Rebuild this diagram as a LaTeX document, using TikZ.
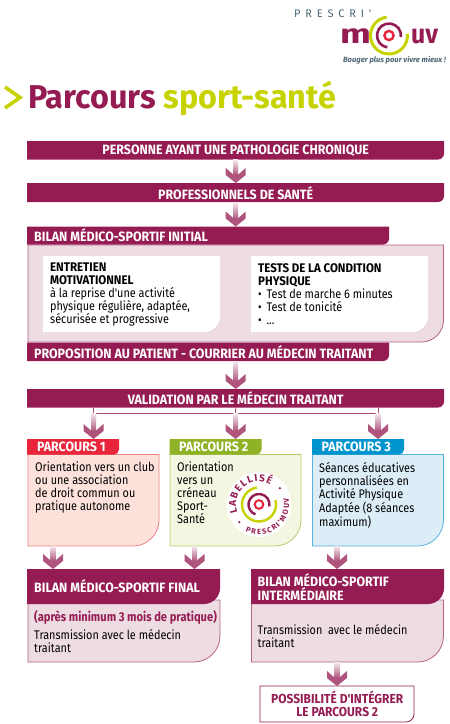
\documentclass[tikz,border=0pt]{standalone}
\usepackage{fontspec}
\setmainfont{Fira Sans}
\newfontfamily\slimfont[FakeStretch=0.87]{Fira Sans}
\newfontfamily\barfont[FakeStretch=0.92]{Fira Sans}
\newfontfamily\titlefont[FakeStretch=0.98]{Fira Sans}
\newfontfamily\widefont[FakeStretch=1.35]{Fira Sans}
\newfontfamily\spreadfont[LetterSpace=44]{Fira Sans}
\newfontfamily\logofont{Fira Sans}
\usetikzlibrary{calc,decorations.text}
\definecolor{crimson}{HTML}{951C52}
\definecolor{crimsonpale}{HTML}{EDDDE3}
\definecolor{lime}{HTML}{C6D300}
\definecolor{slate}{HTML}{4A6572}
\definecolor{redtab}{HTML}{E8253A}
\definecolor{redline}{HTML}{F08085}
\definecolor{redpale}{HTML}{FDE2DC}
\definecolor{greentab}{HTML}{8FB226}
\definecolor{greenline}{HTML}{B5CC6A}
\definecolor{greenpale}{HTML}{F4F6E2}
\definecolor{bluetab}{HTML}{0094CE}
\definecolor{blueline}{HTML}{52B4DF}
\definecolor{bluepale}{HTML}{DDEDF8}
\tikzset{
	bartext/.style={inner sep=0, text=white, font=\barfont\fontsize{13.5}{13}\selectfont\bfseries},
	bodytext/.style={inner sep=0, anchor=north west, align=left, font=\slimfont\fontsize{12.5}{13}\selectfont},
	linkline/.style={draw=crimson!80, line width=0.8pt},
	crimsonbar/.style={fill=crimson, draw=none},
	whitecard/.style={fill=white, draw=none},
	palepanel/.style={fill=crimsonpale, draw=crimson!70, line width=0.8pt},
}
% box with one rounded corner at the lower right, the name is an empty node for anchors
\def\cornerbox[#1](#2)(#3,#4)(#5,#6)(#7){
	\draw[#1] (#3,#4) -- (#5,#4) [rounded corners=#7] -- (#5,#6) [sharp corners] -- (#3,#6) -- cycle;
	\node[inner sep=0, anchor=north west, minimum width={(#5-#3)*1pt}, minimum height={(#6-#4)*1pt}] (#2) at (#3,#4) {};
}
% shaded arrow from one named point down to another
\def\flowdown(#1)(#2){
	\shade[top color=crimson!10, bottom color=crimson!75] ($(#1)+(-2.5,0)$) rectangle ($(#2)+(2.5,-8)$);
	\fill[crimson!75] ($(#2)+(-10,-15)$) -- ($(#2)+(-2.5,-8.5)$) -- ($(#2)+(2.5,-8.5)$) -- ($(#2)+(10,-15)$) -- ($(#2)+(10,-8)$) -- (#2) -- ($(#2)+(-10,-8)$) -- cycle;
}

\begin{document}
\begin{tikzpicture}[x=1pt, y=-1pt]
	%%%%% START %%%%%
	\useasboundingbox (0,0) rectangle (450,724);
	
	% logo
	\node[inner sep=0, anchor=west, text=slate, font=\spreadfont\fontsize{11}{11}\selectfont] (prescri) at (294,14) {PRESCRI'};
	\node[inner sep=0, anchor=base west, text=crimson, font=\widefont\fontsize{27}{27}\selectfont\bfseries] (mot-m) at (340,43) {m};
	\node[inner sep=0, anchor=base west, text=crimson, font=\barfont\fontsize{27}{27}\selectfont\bfseries] (mot-uv) at (411,43) {uv};
	\begin{scope}[shift={(389,35.5)}, y=1pt]
		\draw[lime, line width=3pt] (97:18.5) arc (97:365:18.5);
		\draw[crimson, line width=2.6pt] (-8:12) arc (-8:262:12);
		\draw[redtab, line width=2.4pt] (0,0) circle (4.6);
	\end{scope}
	\node[inner sep=0, anchor=east, text=slate, font=\logofont\fontsize{7.6}{8}\selectfont\itshape\bfseries] (slogan) at (446,60.5) {Bouger plus pour vivre mieux !};
	
	% title
	\draw[lime, line width=3.6pt] (5,87) -- (20,97.5) -- (5,108);
	\node[inner sep=0, anchor=base west, font=\titlefont\fontsize{33}{33}\selectfont\bfseries] (title) at (28,108) {\textcolor{crimson}{Parcours} \textcolor{lime}{sport-santé}};
	
	% first bars
	\cornerbox[crimsonbar](patient)(27,141)(444,159.5)(6)
	\node[bartext] (patient-txt) at (patient.center) {PERSONNE AYANT UNE PATHOLOGIE CHRONIQUE};
	\cornerbox[crimsonbar](pros)(27,183)(444,202)(6)
	\node[bartext] (pros-txt) at (pros.center) {PROFESSIONNELS DE SANTÉ};
	\flowdown(patient.south)(pros.north)
	
	% initial review
	\cornerbox[palepanel](review)(28,245)(443.5,342)(22)
	\cornerbox[crimsonbar](review-top)(27,226.5)(389,244.5)(6)
	\node[bartext, anchor=west] (review-txt) at (34,235.5) {BILAN MÉDICO-SPORTIF INITIAL};
	\flowdown(pros.south)(review-top.north -| pros.south)
	\cornerbox[whitecard](talk)(43,256)(220,332)(16)
	\node[bodytext] (talk-txt) at (50,263) {{\barfont\bfseries ENTRETIEN}\\{\barfont\bfseries MOTIVATIONNEL}\\à la reprise d'une activité\\physique régulière, adaptée,\\sécurisée et progressive};
	\cornerbox[whitecard](tests)(251,256)(428,332)(16)
	\node[bodytext] (tests-txt) at (258,263) {{\barfont\bfseries TESTS DE LA CONDITION}\\{\barfont\bfseries PHYSIQUE}\\•\hspace{2pt} Test de marche 6 minutes\\•\hspace{2pt} Test de tonicité\\•\hspace{2pt} ...};
	\cornerbox[crimsonbar](letter)(27,342.5)(389,361)(6)
	\node[bartext, anchor=west] (letter-txt) at (34,352) {PROPOSITION AU PATIENT - COURRIER AU MÉDECIN TRAITANT};
	
	% validation and split
	\cornerbox[crimsonbar](valid)(27,389)(444,407.5)(6)
	\node[bartext] (valid-txt) at (valid.center) {VALIDATION PAR LE MÉDECIN TRAITANT};
	\coordinate (leave) at (235.5,361);
	\flowdown(leave)(valid.north)
	\coordinate (split1) at (93.5,413.5);
	\coordinate (split2) at (235.5,413.5);
	\coordinate (split3) at (378,413.5);
	
	% three routes
	\cornerbox[fill=redpale, draw=redline, line width=0.8pt](route1)(28,454.5)(159,546)(26)
	\cornerbox[fill=redtab, draw=none](tab1)(27,439)(119,454.5)(5)
	\node[bartext, anchor=west] (tab1-txt) at (37,447) {PARCOURS 1};
	\node[bodytext] (route1-txt) at (35,462) {Orientation vers un club\\ou une association\\de droit commun ou\\pratique autonome};
	
	\cornerbox[fill=greenpale, draw=greenline, line width=0.8pt](route2)(170,454.5)(301,546)(26)
	\cornerbox[fill=greentab, draw=none](tab2)(169.5,439)(261.5,454.5)(5)
	\node[bartext, anchor=west] (tab2-txt) at (179,447) {PARCOURS 2};
	\node[bodytext] (route2-txt) at (177,462) {Orientation\\vers un\\créneau\\Sport-\\Santé};
	
	\cornerbox[fill=bluepale, draw=blueline, line width=0.8pt](route3)(312.5,454.5)(443.5,546)(26)
	\cornerbox[fill=bluetab, draw=none](tab3)(312,439)(404,454.5)(5)
	\node[bartext, anchor=west] (tab3-txt) at (321.5,447) {PARCOURS 3};
	\node[bodytext] (route3-txt) at (319,462) {Séances éducatives\\personnalisées en\\Activité Physique\\Adaptée (8 séances\\maximum)};
	
	\draw[linkline] (split1) -- (split1 |- valid.south);
	\draw[linkline] (split2) -- (valid.south);
	\draw[linkline] (split3) -- (split3 |- valid.south);
	\draw[linkline] (split1) -- (split3);
	\flowdown(split1)(split1 |- tab1.north)
	\flowdown(split2)(split2 |- tab1.north)
	\flowdown(split3)(split3 |- tab1.north)
	
	% seal
	\begin{scope}[shift={(259,504.5)}, y=1pt]
		\fill[white] (0,0) circle (32.5);
		\draw[lime, line width=2.4pt] (97:17) arc (97:375:17);
		\draw[crimson, line width=2.4pt] (-10:10.5) arc (-10:250:10.5);
		\draw[redtab, line width=2pt] (0,0) circle (4.3);
		\path[decorate, decoration={text along path, text align={fit to path}, text={|\logofont\fontsize{10}{10}\selectfont\bfseries\color{crimson}|LABELLISÉ}}] (200:23) arc (200:60:23);
		\path[decorate, decoration={text along path, text align={fit to path}, text={|\logofont\fontsize{7.5}{7.5}\selectfont\bfseries\color{crimson}|PRESCRI'MOUV}}] (243:30) arc (243:372:30);
		\fill[crimson] (38:26.5) circle (1.2);
		\fill[crimson] (222:26.5) circle (1.2);
	\end{scope}
	
	% last reviews
	\coordinate (drop1) at (53,546);
	\coordinate (drop2) at (194.5,546);
	\coordinate (drop3) at (337,546);
	\cornerbox[palepanel](final)(28,600)(220,662)(26)
	\cornerbox[crimsonbar](final-top)(27,569)(220,604)(16)
	\node[bartext, anchor=west] (final-txt) at (34,586.5) {BILAN MÉDICO-SPORTIF FINAL};
	\node[inner sep=0, anchor=west, text=crimson, font=\slimfont\fontsize{12.8}{13}\selectfont\bfseries] (final-note) at (34,617) {(après minimum 3 mois de pratique)};
	\node[bodytext] (final-body) at (34,629.5) {Transmission avec le médecin\\traitant};
	
	\cornerbox[palepanel](middle)(251.5,600)(443.5,662)(26)
	\cornerbox[crimsonbar](middle-top)(251,569)(444,604)(16)
	\node[bartext, anchor=north west, align=left] (middle-txt) at (257.5,573) {BILAN MÉDICO-SPORTIF\\INTERMÉDIAIRE};
	\node[bodytext] (middle-body) at (257.5,624) {Transmission~ avec le médecin\\traitant};
	
	\flowdown(drop1)(drop1 |- final-top.north)
	\flowdown(drop2)(drop2 |- final-top.north)
	\flowdown(drop3)(drop3 |- middle-top.north)
	
	\cornerbox[fill=white, draw=crimson, line width=0.8pt](option)(260,686)(414,722)(8)
	\node[inner sep=0, align=center, text=crimson, font=\barfont\fontsize{13}{13}\selectfont\bfseries] (option-txt) at (option.center) {POSSIBILITÉ D'INTÉGRER\\LE PARCOURS 2};
	\flowdown(middle.south -| drop3)(option.north -| drop3)
	
	%%%%% END %%%%%
\end{tikzpicture}
\end{document}
